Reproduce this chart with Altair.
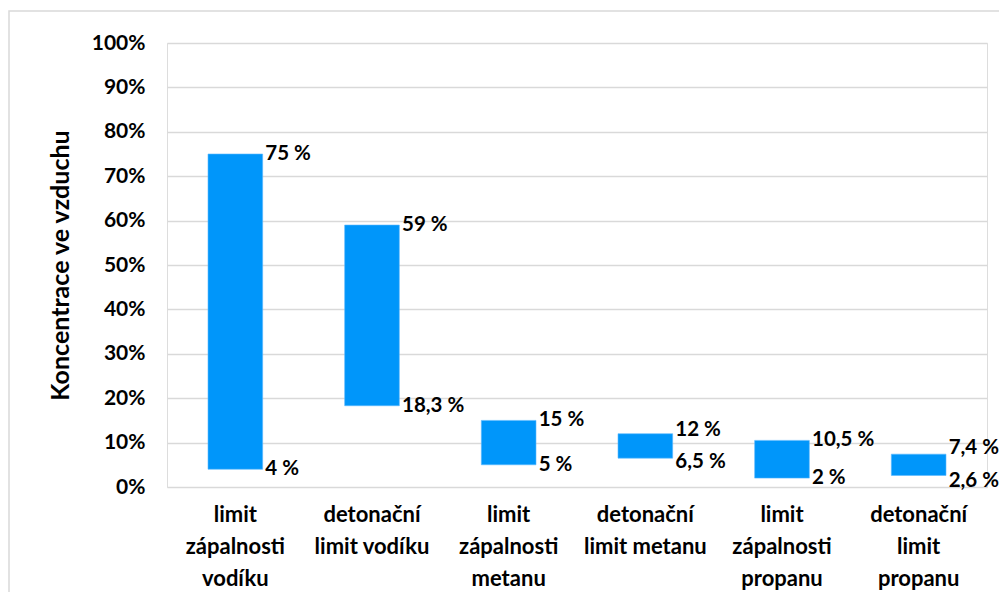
import altair as alt
import pandas as pd

categories = [
    "limit|zápalnosti|vodíku",
    "detonační|limit vodíku",
    "limit|zápalnosti|metanu",
    "detonační|limit metanu",
    "limit|zápalnosti|propanu",
    "detonační|limit|propanu",
]
lows = [0.04, 0.183, 0.05, 0.065, 0.02, 0.026]
highs = [0.75, 0.59, 0.15, 0.12, 0.105, 0.074]
low_labels = ["4 %", "18,3 %", "5 %", "6,5 %", "2 %", "2,6 %"]
high_labels = ["75 %", "59 %", "15 %", "12 %", "10,5 %", "7,4 %"]
y_ticks = [0, 0.1, 0.2, 0.3, 0.4, 0.5, 0.6, 0.7, 0.8, 0.9, 1.0]

df = pd.DataFrame({
    "cat": categories,
    "low": lows,
    "high": highs,
    "low_label": low_labels,
    "high_label": high_labels,
})

FONT = "Lato"
W, H = 820, 444

x_enc = alt.X(
    "cat:N",
    sort=categories,
    scale=alt.Scale(paddingInner=0.6, paddingOuter=0.3),
    axis=alt.Axis(
        title=None,
        labelExpr="split(datum.label, '|')",
        labelAngle=0,
        labelFont=FONT,
        labelFontSize=22,
        labelFontWeight="bold",
        labelColor="#000000",
        labelLineHeight=32,
        labelPadding=17,
        labelBaseline="top",
        ticks=False,
        domain=False,
        grid=False,
    ),
)

y_scale = alt.Scale(domain=[0, 1], nice=False)

bars = alt.Chart(df).mark_bar(color="#0096FA", stroke="#5BB8FF", strokeWidth=0.6).encode(
    x=x_enc,
    y=alt.Y(
        "low:Q",
        scale=y_scale,
        axis=alt.Axis(
            title="Koncentrace ve vzduchu",
            titleFont=FONT,
            titleFontSize=25,
            titleFontWeight="bold",
            titleColor="#000000",
            titlePadding=18,
            values=y_ticks,
            format=".0%",
            labelFont=FONT,
            labelFontSize=21,
            labelFontWeight="bold",
            labelColor="#000000",
            labelPadding=22,
            ticks=False,
            domain=False,
            grid=True,
            gridColor="#D9D9D9",
            gridWidth=1.6,
        ),
    ),
    y2="high:Q",
)

text_base = alt.Chart(df).transform_calculate(
    mid="(datum.high + datum.low) / 2",
).transform_calculate(
    hi_pos="max(datum.high, datum.mid + 0.037)",
    lo_pos="min(datum.low, datum.mid - 0.037)",
)

hi_text = text_base.mark_text(
    align="left", baseline="middle", dx=30, font=FONT, fontSize=20.5,
    fontWeight="bold", color="#000000"
).encode(x=alt.X("cat:N", sort=categories), y=alt.Y("hi_pos:Q", scale=y_scale), text="high_label:N")

lo_text = text_base.mark_text(
    align="left", baseline="middle", dx=30, font=FONT, fontSize=20.5,
    fontWeight="bold", color="#000000"
).encode(x=alt.X("cat:N", sort=categories), y=alt.Y("lo_pos:Q", scale=y_scale), text="low_label:N")

border = alt.Chart(pd.DataFrame({"a": [0]})).mark_rect(
    fill=None, stroke="#D9D9D9", strokeWidth=1.5
).encode(
    x=alt.value(-158), x2=alt.value(900), y=alt.value(-32), y2=alt.value(600)
)

chart = alt.layer(border, bars, hi_text, lo_text).properties(
    width=W,
    height=H,
    padding={"left": 159, "top": 35, "right": 12, "bottom": 105},
    autosize=alt.AutoSizeParams(type="none"),
).configure_view(stroke=None).configure(background="white")

chart.save("out.html", embed_options={"renderer": "svg", "actions": False})
